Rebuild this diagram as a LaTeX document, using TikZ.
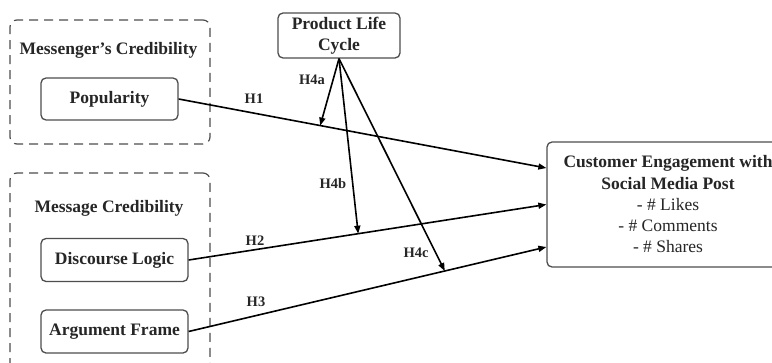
\documentclass[tikz,border=0pt]{standalone}
\usepackage{fontspec}
\setmainfont{Liberation Serif}
\usetikzlibrary{arrows.meta, calc}
\definecolor{boxgrey}{HTML}{4D4D4D}
\tikzset{
  cons/.style={draw=boxgrey, line width=1.3pt, rounded corners=5pt, fill=white, align=center,
    minimum width=#1, minimum height=43pt, inner sep=2pt, text=black!85,
    font=\fontsize{17.5}{21}\selectfont\bfseries},
  cons/.default=147pt,
  grp/.style={draw=boxgrey, line width=1.2pt, dash pattern=on 9pt off 6pt, rounded corners=7pt,
    minimum width=200pt, minimum height=#1},
  ttl/.style={font=\fontsize{17.5}{21}\selectfont\bfseries, text=black!85, inner sep=1pt},
  hyp/.style={font=\fontsize{14.5}{17}\selectfont\bfseries, text=black!85, inner sep=1pt},
  rel/.style={line width=1.6pt, -{Triangle[length=8pt, width=6pt]}},
}

\begin{document}
\begin{tikzpicture}[x=1pt, y=-1pt]
\useasboundingbox (0,0) rectangle (772,362);
\clip (0,0) rectangle (772,362);

% ── Messenger's Credibility ─────────────────────────────────
\node[grp=124pt] (mgr) at (110, 82) {};
\node[ttl] (mgrT) at (108.5, 50) {Messenger's Credibility};
\node[cons=137pt, minimum height=42pt] (pop) at (109.5, 99) {Popularity};

% ── Message Credibility ─────────────────────────────────────
\node[grp=200pt] (msg) at (110, 273) {};
\node[ttl] (msgT) at (109, 208) {Message Credibility};
\node[cons] (dl) at (114.5, 260) {Discourse Logic};
\node[cons] (af) at (114.5, 331.5) {Argument Frame};

% ── Product Life Cycle ──────────────────────────────────────
\node[cons=122pt, minimum height=45pt] (plc) at (339, 35.5) {Product Life\\Cycle};

% ── Customer Engagement ─────────────────────────────────────
\node[cons=242pt, minimum height=125pt, font=\fontsize{17.5}{21.25}\selectfont] (ce) at (668, 204.5)
  {\textbf{Customer Engagement with}\\\textbf{Social Media Post}\\- \# Likes\\- \# Comments\\- \# Shares};
\coordinate (in1) at ([yshift=36.5pt]ce.west);
\coordinate (in3) at ([yshift=-42.5pt]ce.west);

% ── Hypotheses ──────────────────────────────────────────────
\draw[rel] (pop.east) -- (in1);
\draw[rel] (dl.east) -- (ce.west);
\draw[rel] (af.east) -- (in3);

\coordinate (m1) at ($(pop.east)!0.385!(in1)$);
\coordinate (m2) at ($(dl.east)!0.474!(ce.west)$);
\coordinate (m3) at ($(af.east)!0.716!(in3)$);
\draw[rel] (plc.south) -- (m1);
\draw[rel] (plc.south) -- (m2);
\draw[rel] (plc.south) -- (m3);

\node[hyp] (h1) at (254, 99) {H1};
\node[hyp] (h2) at (255, 241) {H2};
\node[hyp] (h3) at (256, 302) {H3};
\node[hyp] (h4a) at (312, 80) {H4a};
\node[hyp] (h4b) at (333, 184) {H4b};
\node[hyp] (h4c) at (416, 253) {H4c};

\end{tikzpicture}
\end{document}
